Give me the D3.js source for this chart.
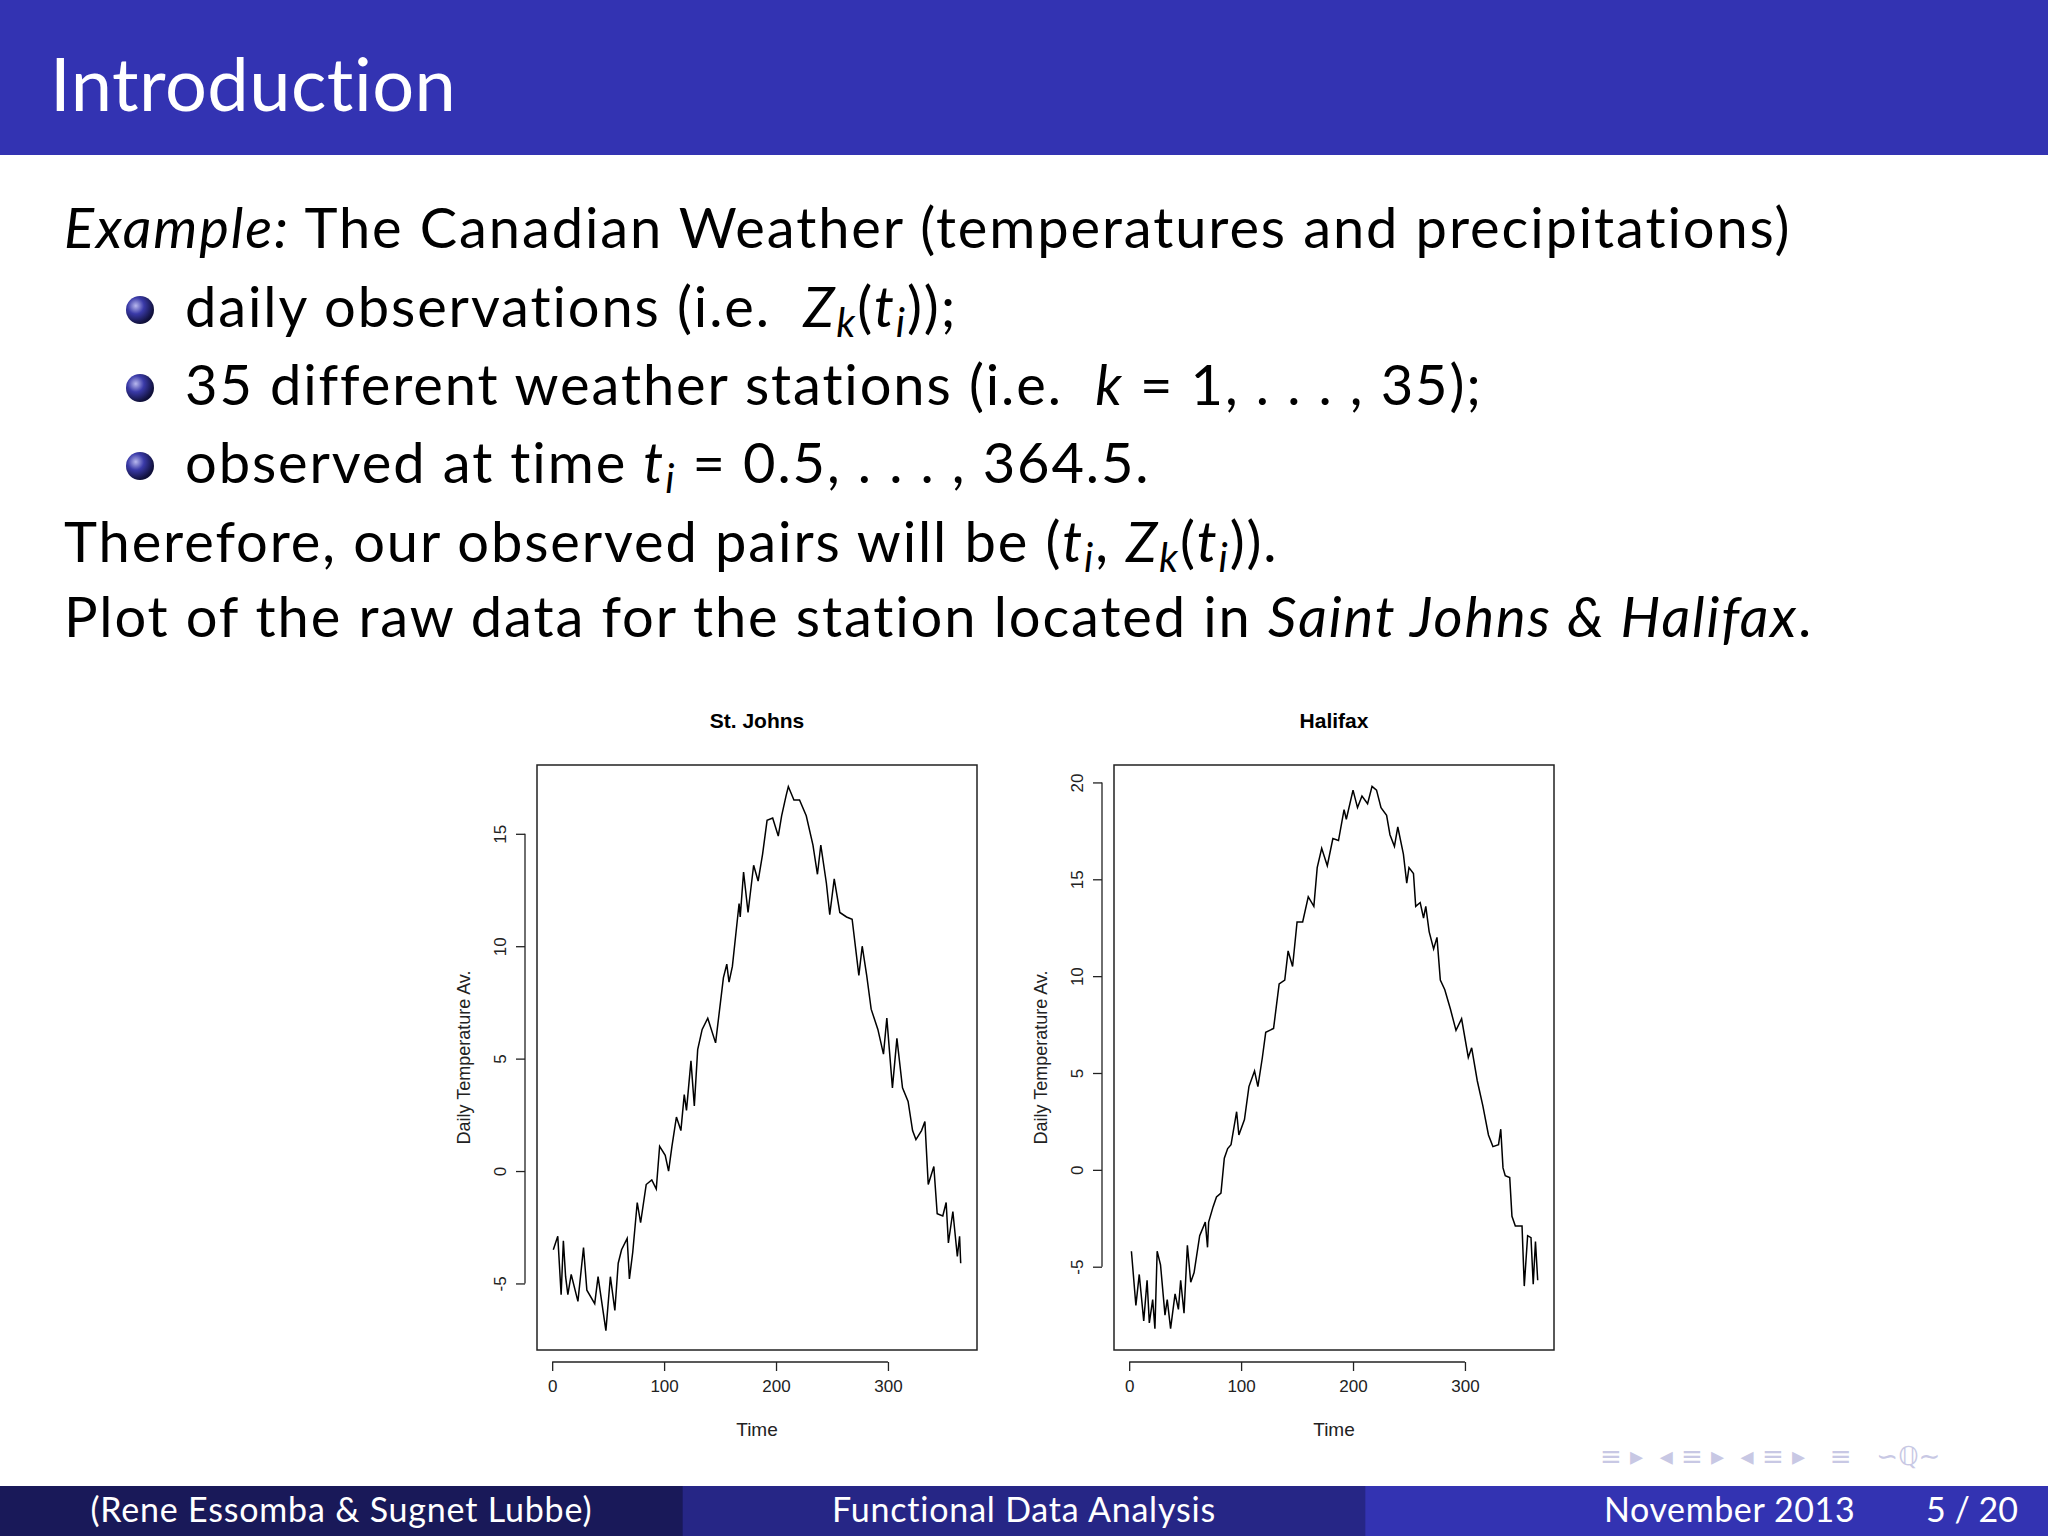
<!DOCTYPE html>
<html>
<head>
<meta charset="utf-8">
<script src="https://cdn.jsdelivr.net/npm/d3@7"></script>
<style>
  body { margin: 0; background: #fff; }
</style>
</head>
<body>
<div id="slide"></div>
<script>
// data (day of year, daily temperature)
var stjDays = [1,5,8,10,12,14,17,23,28,31,38,41,48,52,56,59,62,67,69,72,76,79,84,89,93,96,101,104,107,111,115,118,120,124,127,130,134,139,146,153,156,158,161,164,167,168,171,175,180,184,188,192,197,202,205,209,211,216,221,227,233,237,240,245,248,252,257,263,268,274,277,281,285,291,296,299,304,308,313,318,322,325,330,333,336,341,344,349,352,354,358,362,364,365];
var stjTemp = [-3.5,-2.9,-5.5,-3.1,-4.7,-5.5,-4.6,-5.8,-3.4,-5.3,-5.9,-4.7,-7.1,-4.7,-6.2,-4.1,-3.5,-3.0,-4.8,-3.6,-1.4,-2.3,-0.6,-0.4,-0.8,1.1,0.7,0.0,1.1,2.4,1.8,3.4,2.7,4.9,2.9,5.4,6.3,6.8,5.7,8.6,9.2,8.4,9.1,10.5,11.9,11.3,13.3,11.5,13.6,12.9,14.1,15.6,15.7,14.9,15.8,16.7,17.1,16.5,16.5,15.8,14.5,13.2,14.5,12.8,11.4,13.0,11.5,11.3,11.2,8.7,10.0,8.7,7.2,6.3,5.2,6.8,3.7,5.9,3.7,3.1,1.8,1.4,1.8,2.2,-0.6,0.2,-1.9,-2.0,-1.4,-3.2,-1.8,-3.8,-2.9,-4.1];

var halDays = [2,6,9,13,16,18,21,23,25,28,32,34,37,41,44,46,49,52,55,58,63,68,70,71,75,78,82,85,88,91,96,98,103,107,112,115,119,122,129,134,139,142,146,150,155,160,165,168,172,177,182,187,192,194,200,204,208,213,217,221,225,230,233,237,240,245,248,250,254,256,260,263,265,268,272,275,278,282,287,292,297,303,306,311,316,321,325,330,332,334,336,340,342,345,351,353,356,359,361,363,365];
var halTemp = [-4.2,-7.0,-5.4,-7.8,-5.7,-7.9,-6.7,-8.2,-4.2,-4.9,-7.5,-6.7,-8.2,-6.4,-7.2,-5.7,-7.4,-3.9,-5.8,-5.3,-3.4,-2.7,-4.0,-2.7,-1.9,-1.4,-1.2,0.6,1.1,1.3,3.0,1.8,2.6,4.3,5.1,4.3,5.8,7.1,7.3,9.6,9.8,11.3,10.5,12.8,12.8,14.1,13.6,15.6,16.6,15.7,17.1,17.0,18.6,18.1,19.6,18.7,19.3,18.9,19.8,19.6,18.7,18.3,17.3,16.7,17.7,16.3,14.8,15.6,15.3,13.6,13.8,13.0,13.6,12.3,11.4,12.0,9.8,9.3,8.3,7.2,7.8,5.8,6.3,4.6,3.3,1.8,1.2,1.3,2.1,0.1,-0.3,-0.4,-2.4,-2.9,-2.9,-6.0,-3.4,-3.5,-5.9,-3.7,-5.7];

var xTicks = [0, 100, 200, 300];
var stjYTicks = [-5, 0, 5, 10, 15];
var halYTicks = [-5, 0, 5, 10, 15, 20];

var W = 2048, H = 1536;
var svg = d3.select("#slide").append("svg")
    .attr("width", W).attr("height", H);

// gradient for the beamer ball bullets
var grad = svg.append("defs").append("radialGradient")
    .attr("id", "ball").attr("cx", "35%").attr("cy", "35%").attr("r", "65%");
grad.append("stop").attr("offset", "0%").attr("stop-color", "#b8b8ee");
grad.append("stop").attr("offset", "45%").attr("stop-color", "#3a3aa8");
grad.append("stop").attr("offset", "100%").attr("stop-color", "#10103a");

// header bar
svg.append("rect").attr("width", W).attr("height", 155).attr("fill", "#3333b2");
svg.append("text").attr("x", 50).attr("y", 111)
    .attr("font-family", "Lato").attr("font-size", 74).attr("fill", "#fff")
    .attr("letter-spacing", 0.5).style("font-variant-ligatures", "none")
    .text("Introduction");

// body text, segments: [text, style] with style "" | "i" | "s" (italic subscript)
function line(x, y, segs) {
  var t = svg.append("text").attr("x", x).attr("y", y)
      .attr("font-family", "Lato").attr("font-size", 56).attr("fill", "#000")
      .attr("letter-spacing", 1.9).style("font-variant-ligatures", "none")
      .attr("xml:space", "preserve");
  var shift = 0;
  segs.forEach(function(s) {
    var ts = t.append("tspan").text(s[0]);
    if (s[1] == "i") ts.attr("font-style", "italic");
    if (s[1] == "s") {
      ts.attr("font-style", "italic").attr("font-size", 40).attr("dy", 10 - shift);
      shift = 10;
    } else if (shift) {
      ts.attr("dy", -shift);
      shift = 0;
    }
  });
  return t;
}
line(64, 248, [["Example:", "i"], [" The Canadian Weather (temperatures and precipitations)", ""]]);
line(185, 327, [["daily observations (i.e.  ", ""], ["Z", "i"], ["k", "s"], ["(", ""], ["t", "i"], ["i", "s"], ["));", ""]]);
line(185, 405, [["35 different weather stations (i.e.  ", ""], ["k", "i"], [" = 1, . . . , 35);", ""]]);
line(185, 483, [["observed at time ", ""], ["t", "i"], ["i", "s"], [" = 0.5, . . . , 364.5.", ""]]);
line(64, 562, [["Therefore, our observed pairs will be (", ""], ["t", "i"], ["i", "s"], [", ", ""], ["Z", "i"], ["k", "s"], ["(", ""], ["t", "i"], ["i", "s"], [")).", ""]]);
line(64, 637, [["Plot of the raw data for the station located in ", ""], ["Saint Johns & Halifax", "i"], [".", ""]]);

svg.selectAll("circle.bullet").data([310, 388, 466]).enter().append("circle")
    .attr("class", "bullet").attr("cx", 140).attr("cy", function(d) { return d; })
    .attr("r", 14).attr("fill", "url(#ball)");

// one R-style panel
function panel(left, title, days, temps, yDomain, yTicks) {
  var top = 765, bottom = 1350, right = left + 440;
  var x = d3.scaleLinear().domain([-13.56, 379.56]).range([left, right]);
  var y = d3.scaleLinear().domain(yDomain).range([bottom, top]);
  var g = svg.append("g").attr("font-family", "Liberation Sans");

  g.append("rect").attr("x", left).attr("y", top)
      .attr("width", right - left).attr("height", bottom - top)
      .attr("fill", "none").attr("stroke", "#222").attr("stroke-width", 1.5);

  var pts = days.map(function(d, i) { return [d, temps[i]]; });
  g.append("path").datum(pts)
      .attr("d", d3.line().x(function(d) { return x(d[0]); }).y(function(d) { return y(d[1]); }))
      .attr("fill", "none").attr("stroke", "#000").attr("stroke-width", 1.5);

  var xa = g.append("g").attr("transform", "translate(0," + (bottom + 12) + ")")
      .call(d3.axisBottom(x).tickValues(xTicks).tickSize(9).tickSizeOuter(0).tickPadding(9).tickFormat(String));
  var ya = g.append("g").attr("transform", "translate(" + (left - 12) + ",0)")
      .call(d3.axisLeft(y).tickValues(yTicks).tickSize(9).tickSizeOuter(0).tickPadding(0).tickFormat(String));
  // R draws the axis line only between first and last tick
  xa.select(".domain").attr("d", "M" + x(xTicks[0]) + ",0H" + x(xTicks[xTicks.length - 1]));
  ya.select(".domain").attr("d", "M0," + y(yTicks[0]) + "V" + y(yTicks[yTicks.length - 1]));
  [xa, ya].forEach(function(a) {
    a.select(".domain").attr("stroke", "#222").attr("stroke-width", 1.3);
    a.selectAll(".tick line").attr("stroke", "#222").attr("stroke-width", 1.3);
    a.selectAll("text").attr("font-family", "Liberation Sans").attr("font-size", 17).attr("fill", "#222");
  });
  ya.selectAll(".tick text")
      .attr("text-anchor", "middle").attr("x", 0).attr("dy", 0)
      .attr("transform", "translate(-19,0) rotate(-90)");

  g.append("text").attr("x", (left + right) / 2).attr("y", 728)
      .attr("text-anchor", "middle").attr("font-weight", "bold").attr("font-size", 21)
      .text(title);
  g.append("text").attr("x", (left + right) / 2).attr("y", 1436)
      .attr("text-anchor", "middle").attr("font-size", 19).attr("fill", "#222")
      .text("Time");
  g.append("text").attr("transform", "translate(" + (left - 67) + "," + ((top + bottom) / 2 + 0) + ") rotate(-90)")
      .attr("text-anchor", "middle").attr("font-size", 18).attr("fill", "#222")
      .text("Daily Temperature Av.");
}
panel(537, "St. Johns", stjDays, stjTemp, [-7.96, 18.06], stjYTicks);
panel(1114, "Halifax", halDays, halTemp, [-9.3, 20.9], halYTicks);

// navigation symbols (faint)
svg.append("text").attr("x", 1600).attr("y", 1465)
    .attr("font-family", "DejaVu Sans").attr("font-size", 26).attr("fill", "#c8c8e4")
    .attr("xml:space", "preserve")
    .text("≡ ▸  ◂ ≡ ▸  ◂ ≡ ▸   ≡   ∽ℚ∼");

// footer
var foot = [["(Rene Essomba & Sugnet Lubbe)", "#191959"], ["Functional Data Analysis", "#262686"], ["", "#3333b2"]];
foot.forEach(function(f, i) {
  svg.append("rect").attr("x", i * W / 3).attr("y", 1486).attr("width", W / 3 + 1).attr("height", 50).attr("fill", f[1]);
  svg.append("text").attr("x", i * W / 3 + W / 6).attr("y", 1522)
      .attr("text-anchor", "middle").attr("font-family", "Lato").attr("font-size", 34).attr("fill", "#fff")
      .attr("letter-spacing", 0.8)
      .text(f[0]);
});
svg.append("text").attr("x", 1604).attr("y", 1522)
    .attr("font-family", "Lato").attr("font-size", 34).attr("fill", "#fff").attr("letter-spacing", 0.6).text("November 2013");
svg.append("text").attr("x", 2018).attr("y", 1522).attr("text-anchor", "end")
    .attr("font-family", "Lato").attr("font-size", 34).attr("fill", "#fff").attr("xml:space", "preserve").text("5 / 20");
</script>
</body>
</html>
